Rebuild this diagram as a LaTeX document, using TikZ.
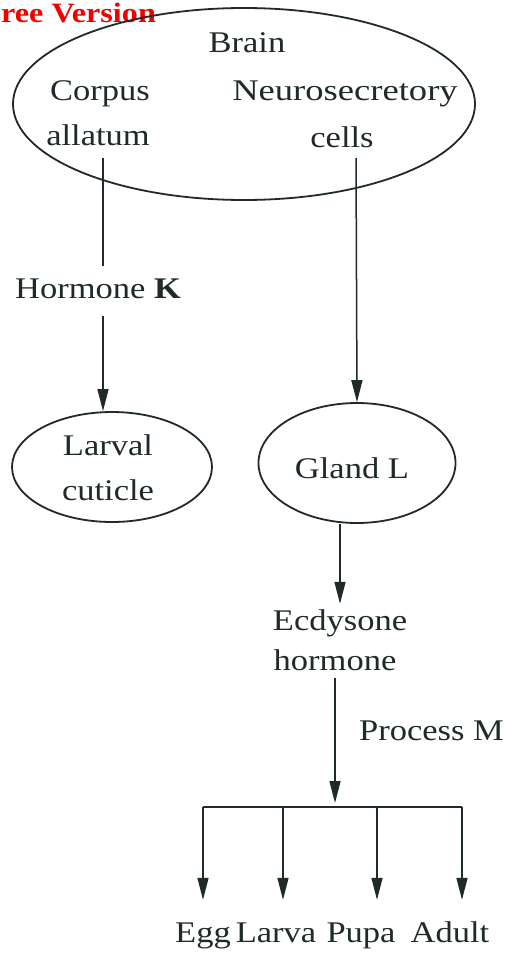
\documentclass[tikz,border=0pt]{standalone}
\usepackage{fontspec}
\setmainfont{Liberation Serif}[FakeStretch=1.15]
\usetikzlibrary{shapes.geometric,arrows.meta}
\definecolor{ink}{HTML}{1E2B27}
\definecolor{wm}{HTML}{F00000}
\begin{document}
\begin{tikzpicture}[x=1pt,y=-1pt,
  txt/.style={inner sep=0pt,anchor=base,text=ink,font=\fontsize{30}{36}\selectfont,
              text height=20pt,text depth=6pt},
  ell/.style={ellipse,draw=ink,line width=1.8pt,inner sep=0pt},
  ln/.style={draw=ink,line width=1.5pt},
  arr/.style={ln,-{Triangle[width=11pt,length=22pt]}}]
\useasboundingbox[fill=white] (0,0) rectangle (507,953);
% watermark
\node[anchor=base west,inner sep=0pt,text=wm,font=\fontsize{28}{32}\selectfont\bfseries] (wmk) at (1,23) {ree Version};
% brain
\node[ell,minimum width=462pt,minimum height=192pt] (brain) at (244,104) {};
\node[txt] (brainlbl) at (247,52) {Brain};
\node[txt] (corpus) at (100,100) {Corpus};
\node[txt] (allatum) at (98,145) {allatum};
\node[txt] (neuro) at (345,100) {\scalebox{1.06}[1]{Neurosecretory}};
\node[txt] (cells) at (342,147) {cells};
% left branch
\node[txt,inner ysep=12pt] (hk) at (98,298) {Hormone \textbf{K}};
\node[ell,minimum width=200pt,minimum height=110pt] (larval) at (112,467) {};
\node[txt] (larvaltxt) at (108,455) {Larval};
\node[txt] (cuticle) at (108,500) {cuticle};
% right branch
\node[ell,minimum width=197pt,minimum height=120pt] (gland) at (357,463) {};
\node[txt] (glandtxt) at (352,478) {Gland L};
\node[txt,inner ysep=6pt] (ecd) at (340,630) {Ecdysone};
\node[txt,inner ysep=2pt] (horm) at (335,670) {hormone};
\node[txt,anchor=base east] (procm) at (504,740) {Process M};
% stages
\node[txt] (egg) at (203,942) {Egg};
\node[txt] (larva) at (276,942) {Larva};
\node[txt] (pupa) at (361,942) {Pupa};
\node[txt] (adult) at (450,942) {Adult};
% coordinates
\coordinate (ca) at (103,158);
\coordinate (nc) at (356,158);
\coordinate (bar) at (335,807);
\coordinate (b1) at (203,807);
\coordinate (b2) at (283,807);
\coordinate (b3) at (377,807);
\coordinate (b4) at (462,807);
% connectors
\draw[ln] (ca) -- (ca |- hk.north);
\draw[arr] (ca |- hk.south) -- (ca |- larval.north);
\draw[arr] (nc) -- (gland.north);
\draw[arr] (gland.south -| ecd.north) -- (ecd.north);
\draw[arr,shorten >=4pt] (horm.south) -- (bar);
\draw[ln] (b1) -- (b4);
\draw[arr,shorten >=22pt] (b1) -- (b1 |- egg.north);
\draw[arr,shorten >=22pt] (b2) -- (b2 |- larva.north);
\draw[arr,shorten >=22pt] (b3) -- (b3 |- pupa.north);
\draw[arr,shorten >=22pt] (b4) -- (b4 |- adult.north);
\end{tikzpicture}
\end{document}
